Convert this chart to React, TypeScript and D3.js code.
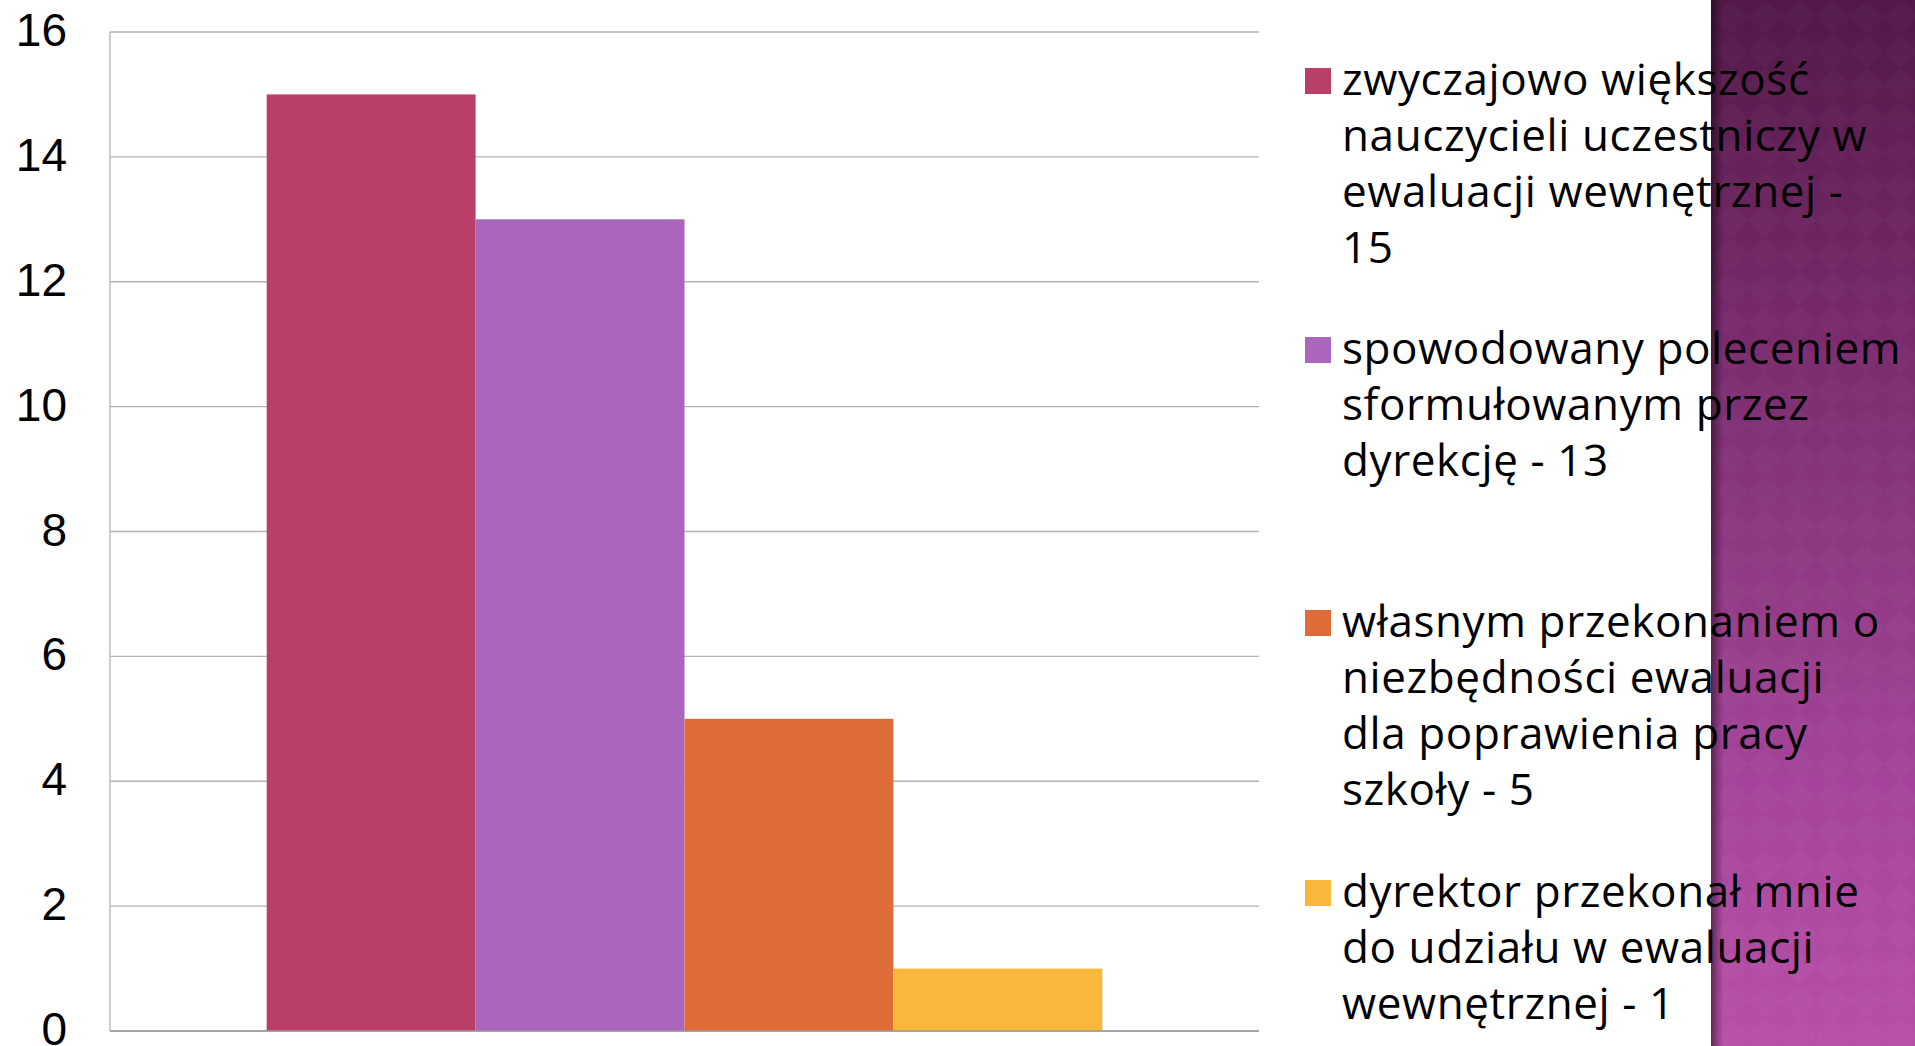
import React from "react";
import * as d3 from "d3";

const seriesNames = [
  "zwyczajowo większość nauczycieli uczestniczy w ewaluacji wewnętrznej - 15",
  "spowodowany poleceniem sformułowanym przez dyrekcję - 13",
  "własnym przekonaniem o niezbędności ewaluacji dla poprawienia pracy szkoły - 5",
  "dyrektor przekonał mnie do udziału w ewaluacji wewnętrznej - 1",
];
const legendLines = [
  ["zwyczajowo większość", "nauczycieli uczestniczy w", "ewaluacji wewnętrznej -", "15"],
  ["spowodowany poleceniem", "sformułowanym przez", "dyrekcję - 13"],
  ["własnym przekonaniem o", "niezbędności ewaluacji", "dla poprawienia pracy", "szkoły - 5"],
  ["dyrektor przekonał mnie", "do udziału w ewaluacji", "wewnętrznej - 1"],
];
const values = [15, 13, 5, 1];
const colors = ["#b93e68", "#aa66bc", "#de6c39", "#f9b73b"];
const categories = ["1"];
const yTicks = [0, 2, 4, 6, 8, 10, 12, 14, 16];

const W = 1915;
const H = 1046;
const plot = { left: 110, right: 1259, top: 32, bottom: 1031 };
const legendX = 1305;
const legendTop = [68, 337, 610, 880];
const lineH = 56;

export default function App() {
  const y = d3.scaleLinear().domain([0, 16]).range([plot.bottom, plot.top]);
  const x0 = d3
    .scaleBand<string>()
    .domain(categories)
    .range([plot.left, plot.right])
    .paddingInner(0)
    .paddingOuter(0.1875);
  const x1 = d3
    .scaleBand<string>()
    .domain(seriesNames)
    .range([0, x0.bandwidth()])
    .padding(0);

  return (
    <svg
      width={W}
      height={H}
      style={{ position: "absolute", left: 0, top: 0, display: "block" }}
    >
      <defs>
        <linearGradient id="panelGrad" x1="0" y1="0" x2="0" y2="1">
          <stop offset="0" stopColor="#521947" />
          <stop offset="0.3" stopColor="#76296a" />
          <stop offset="0.5" stopColor="#8c377f" />
          <stop offset="0.75" stopColor="#a5449a" />
          <stop offset="1" stopColor="#b750a7" />
        </linearGradient>
        <linearGradient id="panelShadow" x1="0" y1="0" x2="1" y2="0">
          <stop offset="0" stopColor="#000" stopOpacity="0.45" />
          <stop offset="1" stopColor="#000" stopOpacity="0" />
        </linearGradient>
        <pattern
          id="diamonds"
          width="48"
          height="48"
          patternUnits="userSpaceOnUse"
          patternTransform="rotate(45)"
        >
          <rect width="24" height="24" fill="#ffffff" opacity="0.018" />
          <rect x="24" y="24" width="24" height="24" fill="#ffffff" opacity="0.018" />
        </pattern>
      </defs>
      <rect x={0} y={0} width={W} height={H} fill="#ffffff" />

      {/* decorative side panel */}
      <rect x={1711} y={0} width={W - 1711} height={H} fill="url(#panelGrad)" />
      <rect x={1711} y={0} width={W - 1711} height={H} fill="url(#diamonds)" />
      <rect x={1711} y={0} width={12} height={H} fill="url(#panelShadow)" />

      {/* gridlines */}
      {yTicks.map((t) => (
        <line
          key={"g" + t}
          x1={plot.left}
          x2={plot.right}
          y1={y(t)}
          y2={y(t)}
          stroke="#b3b3b3"
          strokeWidth={1.3}
        />
      ))}
      <line
        x1={plot.left}
        x2={plot.left}
        y1={y(16)}
        y2={y(0)}
        stroke="#b3b3b3"
        strokeWidth={1.3}
      />

      {/* bars */}
      {categories.map((c) => (
        <g key={c} transform={`translate(${x0(c)},0)`}>
          {seriesNames.map((s, i) => (
            <rect
              key={s}
              x={x1(s)}
              y={y(values[i])}
              width={x1.bandwidth()}
              height={y(0) - y(values[i])}
              fill={colors[i]}
            />
          ))}
        </g>
      ))}
      <line
        x1={plot.left}
        x2={plot.right}
        y1={y(0)}
        y2={y(0)}
        stroke="#9a9a9a"
        strokeWidth={1.3}
      />

      {/* y tick labels */}
      {yTicks.map((t) => (
        <text
          key={"t" + t}
          x={67}
          y={y(t) + 14}
          textAnchor="end"
          fontFamily="'Liberation Sans', Arial, sans-serif"
          fontSize={46}
          fill="#000"
        >
          {t}
        </text>
      ))}

      {/* legend */}
      {seriesNames.map((s, i) => (
        <g key={"l" + s}>
          <rect
            x={legendX}
            y={legendTop[i]}
            width={26}
            height={26}
            fill={colors[i]}
          />
          <text
            fontFamily="'Open Sans', sans-serif"
            fontSize={44}
            letterSpacing={0.6}
            fill="#000"
          >
            {legendLines[i].map((ln, j) => (
              <tspan key={j} x={1342} y={legendTop[i] + 27 + j * lineH}>
                {ln}
              </tspan>
            ))}
          </text>
        </g>
      ))}
    </svg>
  );
}
